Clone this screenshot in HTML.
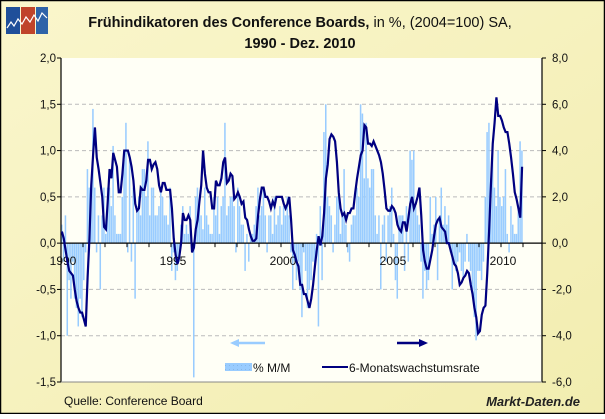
<!DOCTYPE html>
<html><head><meta charset="utf-8"><style>
html,body{margin:0;padding:0;}
body{width:605px;height:414px;overflow:hidden;font-family:"Liberation Sans",Arial,sans-serif;}
</style></head><body>
<svg id="chart" width="605" height="414" xmlns="http://www.w3.org/2000/svg" font-family="Liberation Sans, Arial, sans-serif">
<defs>
<linearGradient id="bg" x1="0" y1="0" x2="1" y2="1"><stop offset="0" stop-color="#faf6cc"/><stop offset="1" stop-color="#f2edb0"/></linearGradient>
<pattern id="dots" width="4" height="4" patternUnits="userSpaceOnUse"><rect width="4" height="4" fill="#99ccff"/><rect x="1" y="1" width="1" height="1" fill="#88b8e8"/></pattern>
</defs>
<rect x="0.5" y="0.5" width="604" height="413" fill="url(#bg)" stroke="#000" stroke-width="1.5"/>
<g>
<rect x="6" y="7" width="14" height="27" fill="#1f4f9a"/>
<rect x="21" y="7" width="14" height="27" fill="#c0442a"/>
<rect x="36" y="7" width="12" height="27" fill="#2e63a8"/>
<polyline points="7,28 11,22 14,26 18,19 22,24 26,17 30,22 34,15 38,21 42,13 47,18" fill="none" stroke="#fff" stroke-width="1.2"/>
</g>
<text x="300" y="27" text-anchor="middle" font-size="14.5" fill="#111"><tspan font-weight="bold">Frühindikatoren des Conference Boards,</tspan> in %, (2004=100) SA,</text>
<text x="300" y="48" text-anchor="middle" font-size="14.5" font-weight="bold" fill="#111">1990 - Dez. 2010</text>
<rect x="61" y="58" width="481" height="324" fill="#fffff6"/>
<g id="grid"></g>
<g id="bars"></g>
<g id="axes"></g>
<path id="line" fill="none" stroke="#000080" stroke-width="2.2"/>
<g><line x1="236" y1="343" x2="265" y2="343" stroke="#99ccff" stroke-width="2.5"/><polygon points="230,343 239,339 239,347" fill="#99ccff"/></g>
<g><line x1="397" y1="343" x2="420" y2="343" stroke="#000080" stroke-width="2.5"/><polygon points="428,343 419,339 419,347" fill="#000080"/></g>
<g>
<rect x="225" y="363" width="27" height="8" fill="url(#dots)"/>
<text x="253" y="372" font-size="12" fill="#111">% M/M</text>
<line x1="322" y1="367" x2="348" y2="367" stroke="#000080" stroke-width="2"/>
<text x="349" y="372" font-size="12" fill="#111">6-Monatswachstumsrate</text>
</g>
<text x="64" y="405" font-size="12" fill="#111">Quelle: Conference Board</text>
<text x="580" y="406" text-anchor="end" font-size="13" font-weight="bold" font-style="italic" fill="#222">Markt-Daten.de</text>
</svg>
<script>
const years=[1990,1995,2000,2005,2010];
const leftTicks=[2.0,1.5,1.0,0.5,0.0,-0.5,-1.0,-1.5];
const rightTicks=[8.0,6.0,4.0,2.0,0.0,-2.0,-4.0,-6.0];
const barValues=[
0.2,-0.2,0.3,-1.0,-0.4,-0.6,-0.2,-0.6,-0.7,-0.9,-0.6,-0.8,
-0.4,-0.1,0.8,0.6,0.6,1.45,0.6,-0.1,0.3,-0.5,0.3,0.6,
0.1,0.6,0.6,0.4,1.05,0.3,0.1,0.1,0.1,0.5,0.9,1.3,
-0.1,0.9,-0.2,0.6,-0.6,0.4,0.5,0.3,0.8,0.8,0.5,1.1,
0.3,0.6,0.6,0.3,0.3,0.4,0.6,0.5,0.3,0.3,0.2,0.6,
-0.3,-0.1,-0.4,-0.3,-0.2,0.2,0.4,0.1,0.2,0.1,0.4,-0.1,
-1.45,0.5,0.6,0.4,0.3,0.15,0.6,0.3,0.2,0.1,0.1,0.5,
0.3,0.5,0.1,0.4,0.5,1.3,0.3,0.4,0.5,0.5,0.4,-0.1,
0.6,0.4,0.2,0.2,-0.3,0.1,-0.2,0.1,0.1,0.2,0.4,0.6,
0.3,0.4,0.6,0.3,-0.1,0.3,0.3,0.1,0.5,0.2,0.3,0.4,
0.2,0.4,0.3,0.5,0.3,-0.1,-0.5,-0.2,-0.4,-0.2,-0.5,-0.8,
-0.1,-0.3,-0.7,-0.5,-0.4,-0.2,-0.3,0.1,-0.9,0.4,-0.4,1.2,
1.5,0.5,0.4,0.3,-0.1,0.2,0.5,0.6,0.1,0.3,0.8,0.2,
-0.1,-0.2,0.2,0.3,0.3,0.6,0.5,1.5,1.4,0.7,1.3,0.7,
0.6,0.8,0.8,0.3,0.1,0.3,-0.5,0.2,0.3,-0.2,0.3,0.4,
0.6,0.1,-0.4,-0.6,0.3,0.3,0.3,-0.3,0.4,-0.2,1.0,0.9,
1.0,0.4,0.3,0.2,-0.2,-0.6,-0.3,-0.5,-0.4,0.5,0.1,0.2,
0.5,-0.4,0.3,0.6,0.2,0.4,0.2,0.3,-0.1,-0.5,-0.2,-0.3,
-0.2,-0.1,-0.3,-0.4,-0.2,0.1,-0.2,-0.3,-0.5,-0.8,-1.05,-0.3,
-0.3,-0.4,-0.2,0.5,1.2,1.3,0.7,1.0,0.6,0.4,1.0,0.5,
0.4,0.5,0.8,0.1,-0.1,0.4,0.2,0.1,0.1,0.4,1.1,1.0];
const lineValues=[
0.5,0.2,-0.3,-0.8,-1.2,-1.3,-1.4,-2.0,-2.5,-2.8,-3.0,-3.0,
-3.3,-3.6,-1.5,0.2,2.5,3.8,5.0,3.7,3.2,2.6,2.0,0.7,
0.6,1.8,3.2,2.8,3.9,3.6,3.3,2.2,2.2,3.0,4.0,4.0,
4.0,3.7,3.3,2.7,1.7,1.4,1.5,2.4,2.3,2.3,2.7,3.6,
3.6,3.2,3.4,3.5,3.2,2.5,2.2,2.6,2.6,2.3,2.3,2.3,
1.5,0.2,-0.5,-0.9,-0.6,0.0,1.3,1.0,1.0,1.2,1.0,-0.4,
-0.2,0.6,1.0,1.8,2.5,4.0,3.0,2.4,2.2,2.2,1.5,1.5,
2.7,2.5,2.5,2.8,3.5,3.7,2.6,2.7,3.0,2.9,1.9,2.0,
2.2,2.0,1.7,1.8,1.1,1.0,0.6,0.3,0.1,0.1,0.2,1.2,
1.9,2.4,2.4,2.0,2.0,1.8,1.5,1.8,1.6,2.0,2.0,2.0,
2.0,1.7,1.5,1.7,2.0,1.0,-0.3,-0.5,-0.8,-1.0,-1.8,-1.8,
-2.2,-2.2,-2.5,-2.8,-2.4,-1.8,-1.0,-0.3,0.3,-0.1,0.3,1.3,
2.8,3.4,4.5,4.7,4.6,4.4,3.5,2.2,1.5,1.2,1.3,1.0,
1.3,1.3,1.5,1.5,2.2,2.8,3.3,3.8,4.0,5.1,5.0,4.3,
4.3,4.2,4.4,4.2,4.0,3.8,3.5,3.0,2.3,1.5,1.4,1.4,
1.6,1.5,1.3,0.8,0.6,0.5,0.9,0.9,0.5,1.1,1.7,2.0,
1.5,1.7,2.0,2.4,1.2,-0.3,-0.8,-1.1,-1.1,-0.7,-0.3,0.3,
0.8,1.0,1.1,0.7,0.6,0.5,0.0,0.0,-0.3,-0.6,-0.9,-1.0,
-1.3,-1.8,-1.7,-1.5,-1.4,-1.2,-1.3,-1.8,-2.2,-2.8,-3.2,-3.9,
-3.8,-3.1,-2.8,-2.7,-1.3,0.5,2.5,4.3,5.2,6.3,5.5,5.5,
5.3,5.0,4.8,4.8,4.3,3.7,3.0,2.2,1.9,1.5,1.1,3.3];
const NS='http://www.w3.org/2000/svg';
const X0=61,X1=542,Y0=58,Y1=382,PXM=22/12;
function xMonth(m){return X0+m*PXM;}
function yLeft(v){return Y1-(v+1.5)/3.5*(Y1-Y0);}
function yRight(v){return Y1-(v+6)/14*(Y1-Y0);}
function mk(tag,attrs,parent){const e=document.createElementNS(NS,tag);for(const k in attrs)e.setAttribute(k,attrs[k]);parent.appendChild(e);return e;}
const grid=document.getElementById('grid'),bars=document.getElementById('bars'),axes=document.getElementById('axes');
leftTicks.forEach((t,i)=>{
 const y=yLeft(t);
 if(t!==0&&t!==-1.5&&t!==2.0){const g=mk('line',{x1:X0,x2:X1,y1:y,y2:y,stroke:'#bbb','stroke-dasharray':'4,3'},grid);
 
 }
 const tl=mk('text',{x:56,y:y+4,'text-anchor':'end','font-size':'11.5',fill:'#111'},axes);
 tl.textContent=t.toFixed(1).replace('.',',');
 
 
 mk('line',{x1:X0-4,x2:X0,y1:y,y2:y,stroke:'#000'},axes);
 const rv=rightTicks[i];const yr=yRight(rv);
 const tr=mk('text',{x:552,y:yr+4,'font-size':'11.5',fill:'#111'},axes);
 tr.textContent=rv.toFixed(1).replace('.',',');
 
 
 mk('line',{x1:X1,x2:X1+4,y1:yr,y2:yr,stroke:'#000'},axes);
});
const bw=PXM;
barValues.forEach((v,i)=>{
 const x=xMonth(i),y0=yLeft(0),y=yLeft(v);
 const r=mk('rect',{x:x.toFixed(2),y:Math.min(y,y0).toFixed(2),width:(bw-0.3).toFixed(2),height:Math.abs(y-y0).toFixed(2),fill:'#99ccff'},bars);
 
 
});
const yz=yLeft(0);
mk('line',{x1:X0,x2:X1,y1:yz,y2:yz,stroke:'#000','stroke-width':1.2},axes);
mk('line',{x1:X0,x2:X0,y1:Y0,y2:Y1,stroke:'#000','stroke-width':1.2},axes);
mk('line',{x1:X1,x2:X1,y1:Y0,y2:Y1,stroke:'#000','stroke-width':1.2},axes);
mk('line',{x1:X0,x2:X1,y1:Y1,y2:Y1,stroke:'#888'},axes);
for(let k=0;k<=21;k++){mk('line',{x1:xMonth(k*12),x2:xMonth(k*12),y1:yz,y2:yz+4,stroke:'#000'},axes);}
years.forEach(yv=>{
 const t=mk('text',{x:xMonth((yv-1990)*12)+2,y:yz+22,'font-size':'12','text-anchor':'middle',fill:'#111'},axes);
 t.textContent=yv;
 
 
});
let d='';
lineValues.forEach((v,i)=>{d+=(i?'L':'M')+(xMonth(i)+bw/2).toFixed(2)+','+yRight(v).toFixed(2);});
document.getElementById('line').setAttribute('d',d);
</script>
</body></html>
